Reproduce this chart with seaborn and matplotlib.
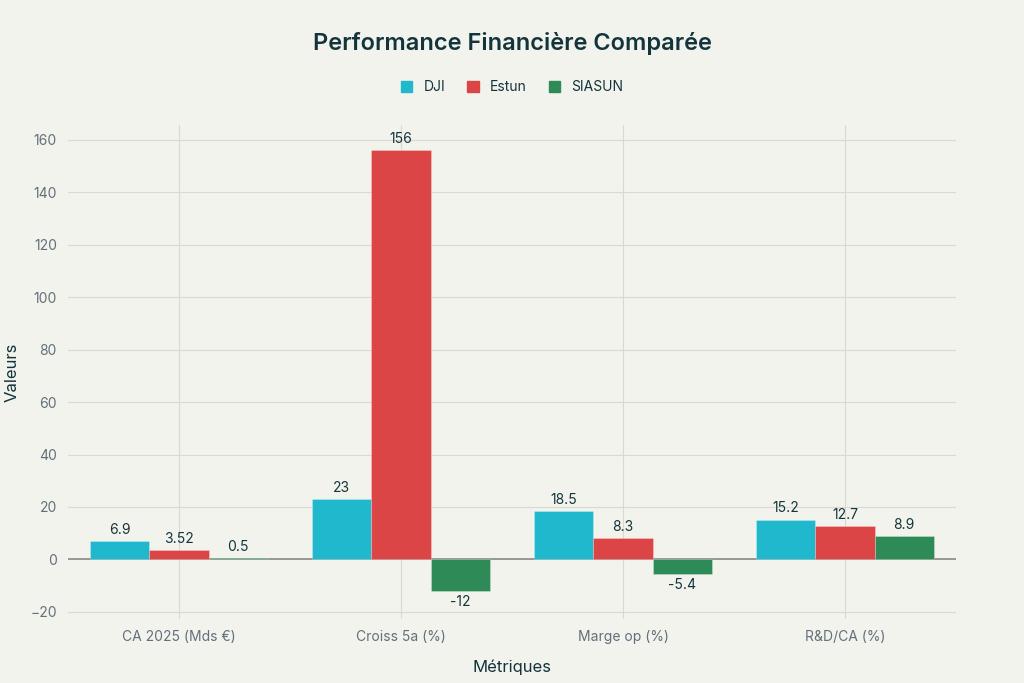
import pandas as pd
import matplotlib.pyplot as plt
import seaborn as sns

metrics = ['CA 2025 (Mds €)', 'Croiss 5a (%)', 'Marge op (%)', 'R&D/CA (%)']
companies = ['DJI', 'Estun', 'SIASUN']
dji = [6.9, 23, 18.5, 15.2]
estun = [3.52, 156, 8.3, 12.7]
siasun = [0.5, -12, -5.4, 8.9]
colors = ['#1FB8CD', '#DB4545', '#2E8B57']

df = pd.DataFrame({
    'Métriques': metrics * 3,
    'Entreprise': [c for c in companies for _ in metrics],
    'Valeurs': dji + estun + siasun,
})

sns.set_style('white')
plt.rcParams['font.family'] = ['Inter', 'DejaVu Sans']

bg = '#F3F3EE'
dark = '#13343B'
fig = plt.figure(figsize=(10.24, 6.83), dpi=100, facecolor=bg)
ax = fig.add_axes([0.0664, 0.0937, 0.8672, 0.7233])
ax.set_facecolor(bg)

sns.barplot(data=df, x='Métriques', y='Valeurs', hue='Entreprise',
            hue_order=companies, order=metrics, palette=colors,
            width=0.8, saturation=1, edgecolor=(1, 1, 1, 0.35), linewidth=0.5,
            legend=False, ax=ax, zorder=2)

# seaborn switches off the categorical grid, so set it afterwards
ax.grid(True, axis='both', color='#d9d9d4', linewidth=0.8)
ax.set_axisbelow(True)
ax.axhline(0, color='#8a8a88', linewidth=1.2, zorder=0.9)

for cont in ax.containers:
    ax.bar_label(cont, labels=[f'{v:g}' for v in cont.datavalues],
                 padding=3, fontsize=10, color=dark)

ax.set_xlim(-0.5, 3.5)
ax.set_ylim(-22.7, 165.6)
ax.set_yticks(range(-20, 161, 20))
ax.set_yticklabels(['\u221220'] + [str(v) for v in range(0, 161, 20)])
for s in ax.spines.values():
    s.set_visible(False)
ax.tick_params(axis='both', length=0, labelsize=10, labelcolor='#62707a', pad=8)
ax.set_xlabel('Métriques', fontsize=12, color=dark, labelpad=11)
ax.set_ylabel('Valeurs', fontsize=12, color=dark, labelpad=8)

fig.suptitle('Performance Financière Comparée', x=0.5, y=0.953,
             fontsize=17, fontweight='semibold', color=dark)

handles = [plt.Rectangle((0, 0), 1, 1, color=c) for c in colors]
fig.legend(handles, companies, loc='center', bbox_to_anchor=(0.5, 0.872),
           ncol=3, frameon=False, fontsize=10, labelcolor=dark,
           handlelength=0.8, handleheight=0.8, columnspacing=1.6,
           handletextpad=0.8)

fig.savefig('out.png', dpi=100, facecolor=bg)
